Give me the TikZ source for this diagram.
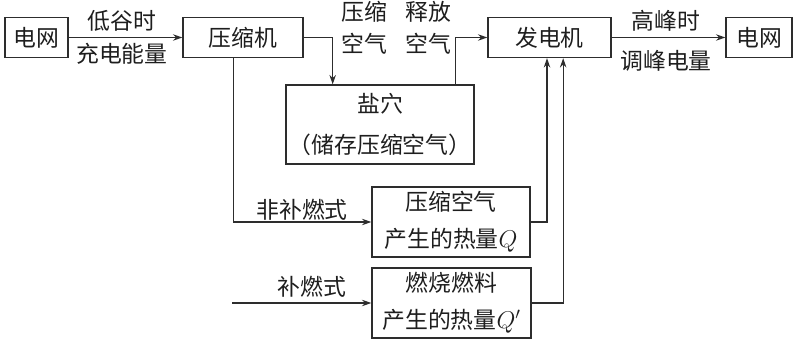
\documentclass[tikz,border=0pt]{standalone}
\usepackage{fontspec}
\setmainfont{Noto Sans CJK SC}
\usetikzlibrary{arrows.meta,calc,positioning}
\definecolor{CaesLine}{RGB}{45,45,45}
\definecolor{CaesText}{RGB}{30,30,30}

\begin{document}
\begin{tikzpicture}[x=0.03cm,y=-0.03cm,>={Stealth[length=8pt,width=5.5pt]},
    font=\fontsize{19.5}{24}\selectfont,
    blk/.style={draw=CaesLine,line width=1.1pt,inner sep=0pt,align=center,text=CaesText},
    lbl/.style={inner sep=0pt,align=center,text=CaesText},
    flow/.style={->,CaesLine,line width=1.1pt}]
    \useasboundingbox (0,0) rectangle (799,342);
    % boxes
    \node[blk,minimum width=63*0.03cm,minimum height=40*0.03cm] (gridL) at (36.5,37.5) {电网};
    \node[blk,minimum width=120*0.03cm,minimum height=40*0.03cm] (comp) at (243,37.5) {压缩机};
    \node[blk,minimum width=188*0.03cm,minimum height=79*0.03cm] (salt) at (380,124.5) {盐穴\\[4mm]（储存压缩空气）};
    \node[blk,minimum width=123*0.03cm,minimum height=40*0.03cm] (gen) at (549.5,37.5) {发电机};
    \node[blk,minimum width=66*0.03cm,minimum height=40*0.03cm] (gridR) at (759,37.5) {电网};
    \node[blk,minimum width=158*0.03cm,minimum height=70*0.03cm] (heatQ) at (451,222) {压缩空气\\[2.6mm]产生的热量$Q$};
    \node[blk,minimum width=159*0.03cm,minimum height=70*0.03cm] (heatQp) at (451.5,303) {燃烧燃料\\[2.6mm]产生的热量$Q'$};
    \coordinate (fuelin) at (232,303);
    % labels
    \node[lbl] (lowA) at (122,21) {低谷时};
    \node[lbl] (lowB) at (122,54) {充电能量};
    \node[lbl] (cmpA) at (364,28) {压缩\\[1mm]空气};
    \node[lbl] (relA) at (428,28) {释放\\[1mm]空气};
    \node[lbl] (peakA) at (666,21) {高峰时};
    \node[lbl] (peakB) at (666,61) {调峰电量};
    \node[lbl] (nofuel) at (302,210) {非补燃式};
    \node[lbl] (fuel) at (312,287) {补燃式};
    % connectors
    \draw[flow] (gridL) -- (comp);
    \draw[flow] (comp.east) -| ($(salt.north west)!0.25!(salt.north east)$);
    \draw[flow] ($(salt.north west)!0.9!(salt.north east)$) |- (gen.west);
    \draw[flow] (gen) -- (gridR);
    \draw[flow] ($(comp.south west)!0.42!(comp.south east)$) |- (heatQ.west);
    \draw[flow] (heatQ.east) -| ($(gen.south west)!0.48!(gen.south east)$);
    \draw[flow] (heatQp.east) -| ($(gen.south west)!0.61!(gen.south east)$);
    \draw[flow] (fuelin) -- (heatQp.west);
\end{tikzpicture}
\end{document}
